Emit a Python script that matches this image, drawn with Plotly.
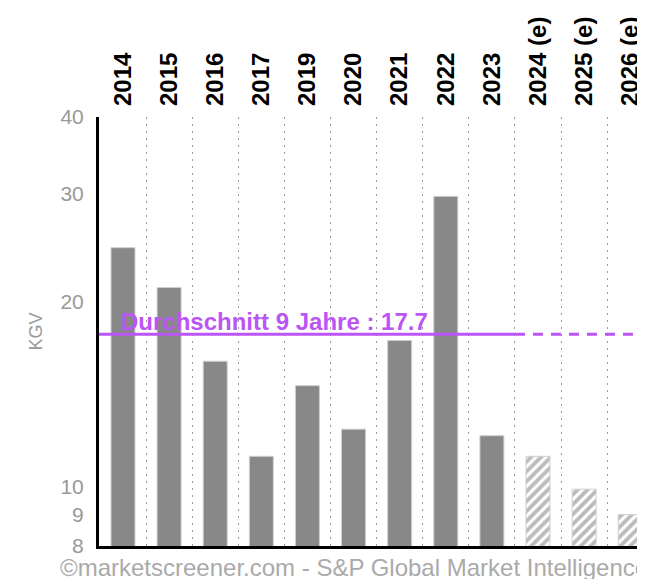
import math
import plotly.graph_objects as go

categories = ["2014", "2015", "2016", "2017", "2019", "2020", "2021", "2022", "2023",
              "2024 (e)", "2025 (e)", "2026 (e)"]
kgv_values = [24.5, 21.1, 16.0, 11.2, 14.6, 12.4, 17.3, 29.7, 12.1, 11.2, 9.9, 9.0]
is_estimate = [False] * 9 + [True] * 3
average_value = 17.7
average_label = "Durchschnitt 9 Jahre : 17.7"
y_ticks = [8, 9, 10, 20, 30, 40]
footer = "©marketscreener.com - S&P Global Market Intelligence"

purple = "#bb55f5"
font_family = "Liberation Sans, Arial, sans-serif"
xs = list(range(len(categories)))
n_actual = sum(1 for e in is_estimate if not e)

fig = go.Figure()

act_x = [x for x, e in zip(xs, is_estimate) if not e]
act_y = [v for v, e in zip(kgv_values, is_estimate) if not e]
est_x = [x for x, e in zip(xs, is_estimate) if e]
est_y = [v for v, e in zip(kgv_values, is_estimate) if e]

# invisible trace to activate the grid axis
fig.add_trace(go.Scatter(x=[0], y=[8], xaxis="x2", mode="markers", marker=dict(opacity=0),
                         showlegend=False, hoverinfo="skip"))

fig.add_trace(go.Bar(x=act_x, y=act_y, width=0.52,
                     marker=dict(color="#888888", line=dict(color="#cfcfcf", width=1)),
                     showlegend=False, hoverinfo="skip"))
fig.add_trace(go.Bar(x=est_x, y=est_y, width=0.52,
                     marker=dict(color="white", line=dict(color="#cfcfcf", width=1),
                                 pattern=dict(shape="/", fgcolor="#777777", bgcolor="white",
                                              size=7, solidity=0.55)),
                     showlegend=False, hoverinfo="skip"))

# average line: solid over actual years, dashed over estimates
fig.add_trace(go.Scatter(x=[-0.6, n_actual - 0.5], y=[average_value, average_value],
                         mode="lines", line=dict(color=purple, width=3),
                         showlegend=False, hoverinfo="skip"))
fig.add_trace(go.Scatter(x=[n_actual - 0.5, len(categories) + 0.5], y=[average_value, average_value],
                         mode="lines", line=dict(color=purple, width=3, dash="10px,8px"),
                         showlegend=False, hoverinfo="skip"))

fig.add_annotation(x=-0.08, y=math.log10(average_value), xref="x", yref="y",
                   text="<b>" + average_label + "</b>",
                   showarrow=False, xanchor="left", yanchor="bottom", yshift=-3,
                   font=dict(family=font_family, size=24, color=purple))

fig.add_annotation(x=-0.075, y=-0.049, xref="paper", yref="paper", text=footer, showarrow=False,
                   xanchor="left", yanchor="middle",
                   font=dict(family=font_family, size=24, color="#aaaaaa"))

xrange = [-0.52, 11.32]
fig.update_layout(
    width=637, height=571,
    margin=dict(l=91, r=0, t=109, b=33),
    plot_bgcolor="white", paper_bgcolor="white",
    barmode="overlay",
    xaxis=dict(range=xrange, side="top", tickmode="array", tickvals=xs, ticktext=categories,
               tickangle=-90, showgrid=False, zeroline=False, ticks="", ticklabelstandoff=10,
               tickfont=dict(family=font_family, size=24, color="black", weight="bold"),
               showline=False),
    xaxis2=dict(range=xrange, overlaying="x", side="bottom", tick0=0.5, dtick=1,
                showticklabels=False, showgrid=True, gridcolor="#9a9a9a", griddash="2px,5px",
                gridwidth=1, zeroline=False, showline=True, linecolor="black", linewidth=3),
    yaxis=dict(type="log", range=[math.log10(8), math.log10(40)], tickvals=y_ticks,
               ticktext=[str(t) for t in y_ticks], showgrid=False, zeroline=False,
               showline=True, linecolor="black", linewidth=3, ticks="", ticklabelstandoff=8,
               tickfont=dict(family=font_family, size=21, color="#999999"),
               title=dict(text="KGV", font=dict(family=font_family, size=18, color="#999999"),
                          standoff=14)),
)
fig.write_html("out.html")
